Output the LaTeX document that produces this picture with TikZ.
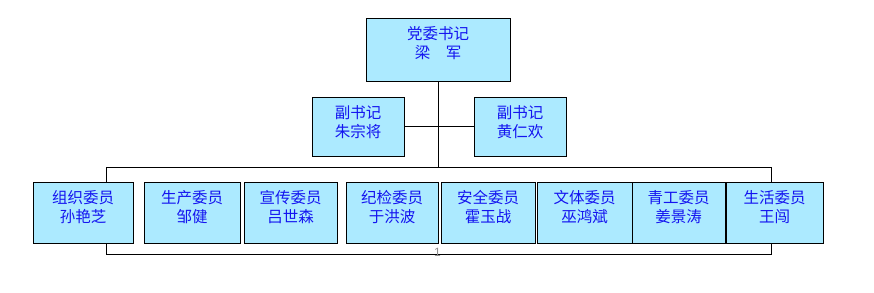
\documentclass[tikz,border=0pt]{standalone}
\usepackage{fontspec}
\newfontfamily\cjk{Noto Sans CJK SC}
\setsansfont{Liberation Sans}
\definecolor{boxfill}{RGB}{172,234,255}
\definecolor{txtblue}{RGB}{20,20,240}
\definecolor{pggray}{RGB}{140,140,140}
\begin{document}
\begin{tikzpicture}[x=1pt,y=-1pt,
  box/.style={draw=black,line width=1pt,fill=boxfill,inner sep=0pt},
  lbl/.style={font=\cjk\fontsize{15.5}{19}\selectfont,text=txtblue,align=center},
  conn/.style={draw=black,line width=1pt}]
\useasboundingbox (0,0) rectangle (874,292);
% bracket behind the lower row
\coordinate (bl) at (106,167);
\coordinate (br) at (771,254);
\draw[conn] (bl) rectangle (br);
\coordinate (bj) at (438,167);
% top
\node[box,minimum width=144pt,minimum height=63pt] (top) at (438,49.5) {};
\node[lbl,yshift=6pt] (topt) at (top.center) {党委书记\\梁　军};
% deputies
\node[box,minimum width=92pt,minimum height=59pt] (d1) at (358,126.5) {};
\node[lbl,yshift=4pt] (d1t) at (d1.center) {副书记\\朱宗将};
\node[box,minimum width=92pt,minimum height=59pt] (d2) at (520,126.5) {};
\node[lbl,yshift=4pt] (d2t) at (d2.center) {副书记\\黄仁欢};
\draw[conn] (top.south) -- (bj);
\draw[conn] (d1.east) -- (d2.west);
% members
\foreach \n/\xa/\xb/\t in {m1/33/133/{组织委员\\孙艳芝},m2/144/240/{生产委员\\邹健},m3/244/337/{宣传委员\\吕世森},m4/346/438/{纪检委员\\于洪波},m5/441/535/{安全委员\\霍玉战},m6/537/632/{文体委员\\巫鸿斌},m7/632/725/{青工委员\\姜景涛},m8/726/823/{生活委员\\王闯}}{
  \pgfmathsetmacro\w{\xb-\xa}
  \node[box,minimum width=\w pt,minimum height=61pt] (\n) at ({(\xa+\xb)/2},212.5) {};
  \node[lbl,yshift=5pt] (\n t) at (\n.center) {\t};
}
\node[text=pggray,font=\sffamily\fontsize{12}{12}\selectfont,inner sep=0pt] (pg) at (437.5,252.5) {1};
\end{tikzpicture}
\end{document}
